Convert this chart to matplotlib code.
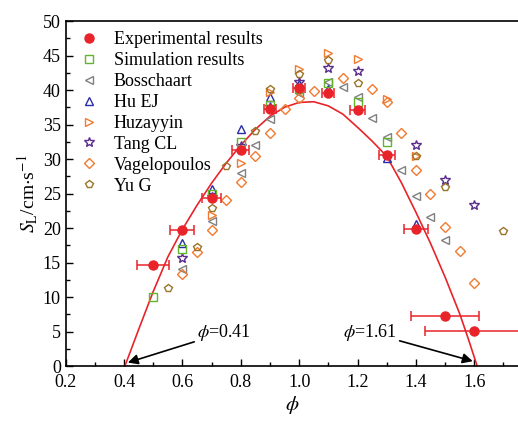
"""Laminar burning velocity S_L vs equivalence ratio phi: experiment, simulation, literature."""

import matplotlib
matplotlib.use("Agg")
import matplotlib.pyplot as plt
from matplotlib.lines import Line2D
from matplotlib.ticker import MultipleLocator

plt.rcParams["font.family"] = ["Liberation Serif", "DejaVu Serif"]
plt.rcParams["mathtext.fontset"] = "stix"

# Experimental results with horizontal error bars
exp_phi = [0.5, 0.6, 0.7, 0.8, 0.9, 1.0, 1.1, 1.2, 1.3, 1.4, 1.5, 1.6]
exp_sl = [14.7, 19.7, 24.4, 31.3, 37.2, 40.3, 39.5, 37.1, 30.6, 19.8, 7.3, 5.1]
exp_err = [0.054, 0.041, 0.033, 0.029, 0.022, 0.02, 0.021, 0.024, 0.028, 0.042, 0.115, 0.17]

# Simulation results
sim_phi = [0.5, 0.6, 0.7, 0.8, 0.9, 1.0, 1.1, 1.2, 1.3]
sim_sl = [10.0, 17.0, 25.0, 32.4, 37.9, 40.2, 41.0, 38.3, 32.5]

# Literature data
boss_phi = [0.6, 0.7, 0.8, 0.85, 0.9, 1.0, 1.1, 1.15, 1.2, 1.25, 1.3, 1.35, 1.4, 1.45, 1.5]
boss_sl = [14.0, 21.0, 28.0, 32.0, 35.8, 39.5, 41.2, 40.4, 39.0, 35.9, 33.2, 28.4, 24.6, 21.6, 18.2]

hu_phi = [0.6, 0.7, 0.8, 0.9, 1.0, 1.1, 1.3, 1.4]
hu_sl = [17.9, 25.7, 34.4, 39.0, 40.8, 40.2, 30.2, 20.6]

huz_phi = [0.7, 0.8, 0.9, 1.0, 1.1, 1.2, 1.3, 1.4]
huz_sl = [21.9, 29.4, 39.7, 43.0, 45.4, 44.5, 38.7, 30.5]

tang_phi = [0.6, 0.7, 0.8, 0.9, 1.0, 1.1, 1.2, 1.4, 1.5, 1.6]
tang_sl = [15.6, 24.5, 31.9, 37.5, 41.1, 43.2, 42.8, 32.1, 27.0, 23.3]

vag_phi = [0.6, 0.65, 0.7, 0.75, 0.8, 0.85, 0.9, 0.95, 1.0, 1.05, 1.15, 1.25, 1.3,
           1.35, 1.4, 1.45, 1.5, 1.55, 1.6]
vag_sl = [13.3, 16.5, 19.7, 24.1, 26.6, 30.4, 33.7, 37.3, 38.8, 39.8, 41.8, 40.1, 38.2,
          33.8, 28.4, 25.0, 20.2, 16.6, 12.0]

yu_phi = [0.55, 0.65, 0.7, 0.75, 0.85, 0.9, 1.0, 1.1, 1.2, 1.4, 1.5, 1.7]
yu_sl = [11.3, 17.3, 22.9, 29.0, 34.1, 40.1, 42.3, 44.3, 41.0, 30.5, 26.0, 19.5]

# Fitted curve
fit_phi = [0.403, 0.45, 0.5, 0.55, 0.6, 0.65, 0.7, 0.75, 0.8, 0.85, 0.9, 0.95, 1.0,
           1.05, 1.1, 1.15, 1.2, 1.25, 1.3, 1.35, 1.4, 1.45, 1.5, 1.55, 1.58, 1.61]
fit_sl = [0.0, 5.3, 10.8, 15.8, 19.8, 23.3, 26.5, 29.4, 32.0, 34.3, 36.2, 37.5, 38.2,
          38.3, 37.7, 36.5, 34.6, 32.6, 30.4, 26.6, 22.3, 17.8, 12.9, 7.6, 3.9, 0.0]

RED = "#e8242a"

fig = plt.figure(figsize=(5.18, 4.21), dpi=100)
ax = fig.add_axes([0.1268, 0.1306, 0.8732, 0.8195])

ax.plot(fit_phi, fit_sl, color=RED, lw=1.2, zorder=2)

ms = 6
ax.errorbar(exp_phi, exp_sl, xerr=exp_err, fmt="o", color=RED, ms=6.5, elinewidth=1.1,
            capsize=3.5, capthick=1.1, zorder=5)
exp_handle = Line2D([], [], ls="none", marker="o", color=RED, ms=6.5,
                    label="Experimental results")
ax.plot(sim_phi, sim_sl, "s", mfc="none", mec="#62b32e", ms=ms - 0.5, mew=1,
        label="Simulation results", zorder=4)
ax.plot(boss_phi, boss_sl, "<", mfc="none", mec="#808080", ms=ms, mew=1,
        label="Bosschaart", zorder=3)
ax.plot(hu_phi, hu_sl, "^", mfc="none", mec="#2c2ca8", ms=ms, mew=1,
        label="Hu EJ", zorder=3)
ax.plot(huz_phi, huz_sl, ">", mfc="none", mec="#f07a30", ms=ms, mew=1,
        label="Huzayyin", zorder=3)
ax.plot(tang_phi, tang_sl, "*", mfc="none", mec="#5a2d8c", ms=ms + 1, mew=1,
        label="Tang CL", zorder=3)
ax.plot(vag_phi, vag_sl, "D", mfc="none", mec="#f07a30", ms=ms - 1, mew=1,
        label="Vagelopoulos", zorder=3)
ax.plot(yu_phi, yu_sl, "p", mfc="none", mec="#9a7428", ms=ms, mew=1,
        label="Yu G", zorder=3)

ax.annotate(r"$\phi$=0.41", xy=(0.413, 0.5), xytext=(0.65, 4.2), fontsize=13,
            arrowprops=dict(arrowstyle="-|>", color="black", lw=1.2,
                            mutation_scale=15, shrinkA=0, shrinkB=0))
ax.annotate(r"$\phi$=1.61", xy=(1.595, 0.7), xytext=(1.15, 4.2), fontsize=13,
            arrowprops=dict(arrowstyle="-|>", color="black", lw=1.2,
                            mutation_scale=15, shrinkA=0, shrinkB=0))

ax.set_xlim(0.2, 1.75)
ax.set_ylim(0, 50)
ax.xaxis.set_major_locator(MultipleLocator(0.2))
ax.xaxis.set_minor_locator(MultipleLocator(0.1))
ax.yaxis.set_major_locator(MultipleLocator(5))
ax.yaxis.set_minor_locator(MultipleLocator(2.5))
ax.set_xticks([0.2, 0.4, 0.6, 0.8, 1.0, 1.2, 1.4, 1.6])
ax.tick_params(which="both", direction="in", labelsize=13, width=1)
ax.tick_params(which="major", length=5)
ax.tick_params(which="minor", length=3)
ax.tick_params(axis="x", pad=6)
ax.spines["right"].set_visible(False)
for s in ("left", "bottom", "top"):
    ax.spines[s].set_linewidth(1.2)

ax.set_xlabel(r"$\phi$", fontsize=15, labelpad=2)
ax.set_ylabel(r"$S_\mathrm{L}$/cm$\cdot$s$^{-1}$", fontsize=14, labelpad=2)

handles, labels = ax.get_legend_handles_labels()
ax.legend([exp_handle] + handles, ["Experimental results"] + labels,
          loc="upper left", frameon=False, fontsize=13, handletextpad=0.6,
          labelspacing=0.22, borderaxespad=0.15, handlelength=1.5)

fig.savefig("out.png", dpi=100)
